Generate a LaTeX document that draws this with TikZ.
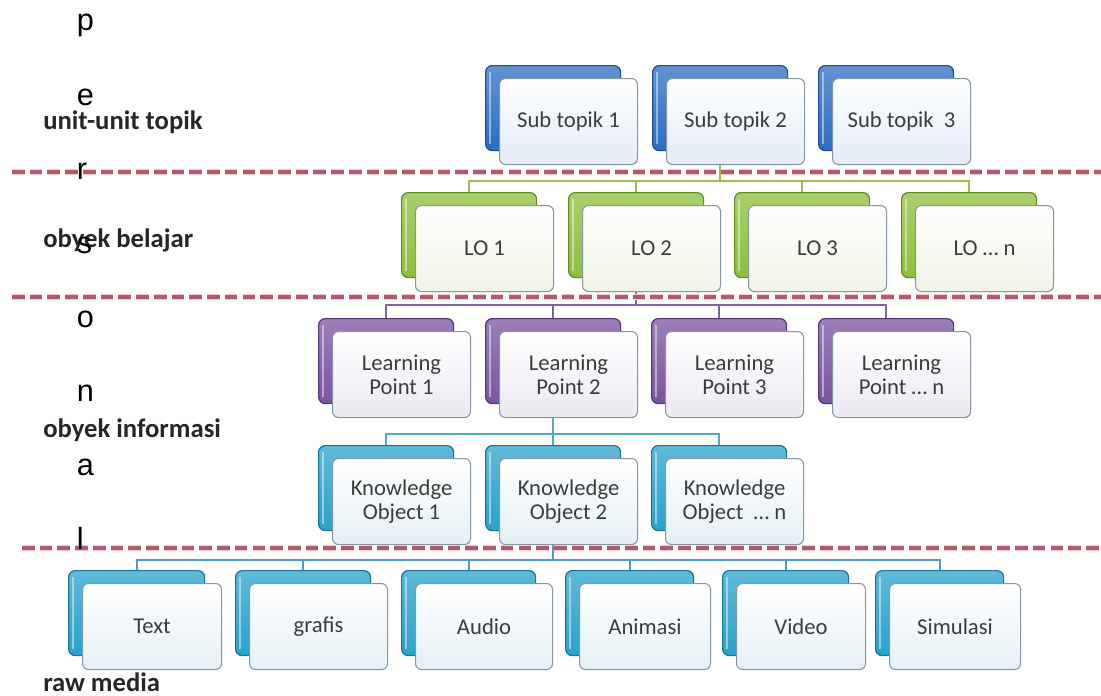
\documentclass[tikz,border=0pt]{standalone}
\usepackage{fontspec}
\setmainfont{Carlito}
\newfontfamily\arialfont{Liberation Sans}
\usetikzlibrary{calc}
\pgfdeclarelayer{bg}
\pgfsetlayers{bg,main}
\definecolor{stblue}{HTML}{2C6EC2}
\definecolor{stdark}{HTML}{1B4E8F}
\definecolor{stfront}{HTML}{E3EBF6}
\definecolor{logreen}{HTML}{8CBF3C}
\definecolor{lodark}{HTML}{5F8D22}
\definecolor{lofront}{HTML}{EFF4E6}
\definecolor{lppurple}{HTML}{7A54A0}
\definecolor{lpdark}{HTML}{533478}
\definecolor{lpfront}{HTML}{ECE8F2}
\definecolor{kocyan}{HTML}{2AA2CA}
\definecolor{kodark}{HTML}{197393}
\definecolor{kofront}{HTML}{E4F0F6}
\definecolor{frontline}{HTML}{8595A5}
\definecolor{textgray}{HTML}{3C3C3C}
\definecolor{sepred}{HTML}{B25A6C}
\definecolor{sepglow}{HTML}{F4CDD4}
\definecolor{conngreen}{HTML}{9BC04F}
\definecolor{connpurple}{HTML}{8064A2}
\definecolor{conncyan}{HTML}{4BACC6}
\definecolor{connblue}{HTML}{4E9BCB}
\newcommand\card[6]{%
  \node[backbox, scheme #5, minimum width={#4*0.75pt}] (#1b) at (#2,#3) {};
  \node[frontbox, front #5, minimum width={(#4+3)*0.75pt}] (#1) at (#2+14,#3+13) {#6};
}
\begin{document}
\begin{tikzpicture}[x=0.75pt,y=-0.75pt,
  backbox/.style={rounded corners=5pt, inner sep=0pt, line width=0.9pt,
    minimum height={85*0.75pt}, anchor=north west,
    path picture={\draw[white, opacity=0.45, line width=1.3pt]
      ([xshift=3.2pt,yshift=-5pt]path picture bounding box.north west) --
      ([xshift=3.2pt,yshift=5pt]path picture bounding box.south west);}},
  frontbox/.style={rounded corners=4.5pt, inner sep=0pt, line width=0.8pt,
    draw=frontline, minimum height={86*0.75pt}, anchor=north west,
    align=center, text=textgray, font=\fontsize{17}{18}\selectfont},
  scheme st/.style={top color=stblue!75!white, bottom color=stblue, draw=stdark},
  scheme lo/.style={top color=logreen!75!white, bottom color=logreen, draw=lodark},
  scheme lp/.style={top color=lppurple!75!white, bottom color=lppurple, draw=lpdark},
  scheme ko/.style={top color=kocyan!75!white, bottom color=kocyan, draw=kodark},
  front st/.style={top color=white, bottom color=stfront},
  front lo/.style={top color=white, bottom color=lofront},
  front lp/.style={top color=white, bottom color=lpfront},
  front ko/.style={top color=white, bottom color=kofront},
  conn/.style={line width=1.4pt, draw=#1},
  sepglowline/.style={line width=4.5pt, draw=sepglow, dash pattern=on 9.5pt off 3.8pt},
  sepline/.style={line width=2.3pt, draw=sepred, dash pattern=on 9.5pt off 3.8pt},
  levellabel/.style={anchor=base west, inner sep=0pt, text=black!85,
    font=\fontsize{20}{21}\selectfont\bfseries},
  letter/.style={anchor=base west, inner sep=0pt, text=black,
    font=\arialfont\fontsize{23}{24}\selectfont}]
\useasboundingbox (0,0) rectangle (1101,696);
% ---------- boxes ----------
\card{st1}{485}{65}{135}{st}{Sub topik 1}
\card{st2}{652}{65}{135}{st}{Sub topik 2}
\card{st3}{818}{65}{135}{st}{Sub topik\ \ 3}
\card{lo1}{401}{192}{135}{lo}{LO 1}
\card{lo2}{568}{192}{135}{lo}{LO 2}
\card{lo3}{734}{192}{135}{lo}{LO 3}
\card{lo4}{901}{192}{135}{lo}{LO … n}
\card{lp1}{318}{318}{135}{lp}{Learning\\Point 1}
\card{lp2}{485}{318}{135}{lp}{Learning\\Point 2}
\card{lp3}{651}{318}{135}{lp}{Learning\\Point 3}
\card{lp4}{818}{318}{135}{lp}{Learning\\Point … n}
\card{ko1}{318}{445}{135}{ko}{Knowledge\\Object 1}
\card{ko2}{485}{445}{135}{ko}{Knowledge\\Object 2}
\card{ko3}{651}{445}{135}{ko}{Knowledge\\Object\ \ … n}
\card{rm1}{68}{570}{136}{ko}{Text}
\card{rm2}{235}{570}{135}{ko}{grafis}
\card{rm3}{401}{570}{134}{ko}{Audio}
\card{rm4}{565}{570}{128}{ko}{Animasi}
\card{rm5}{722}{570}{126}{ko}{Video}
\card{rm6}{875}{570}{128}{ko}{Simulasi}
% ---------- connectors (behind boxes) ----------
\begin{pgfonlayer}{bg}
\foreach \c in {lo1b,lo2b,lo3b,lo4b}
  \draw[conn=conngreen] (st2b.south) -- ++(0,30) -| (\c.north);
\foreach \c in {lp1b,lp2b,lp3b,lp4b}
  \draw[conn=connpurple] (lo2b.south) -- ++(0,27) -| (\c.north);
\foreach \c in {ko1b,ko2b,ko3b}
  \draw[conn=conncyan] (lp2b.south) -- ++(0,30) -| (\c.north);
\foreach \c in {rm1b,rm2b,rm3b,rm4b,rm5b,rm6b}
  \draw[conn=connblue] (ko2b.south) -- ++(0,29) -| (\c.north);
\end{pgfonlayer}
% ---------- separators ----------
\coordinate (s1a) at (12,172);  \coordinate (s1b) at (1101,172);
\coordinate (s2a) at (12,297);  \coordinate (s2b) at (1101,297);
\coordinate (s3a) at (22,548);  \coordinate (s3b) at (1101,548);
\foreach \a/\b in {s1a/s1b,s2a/s2b,s3a/s3b}{
  \draw[sepglowline] (\a) -- (\b);
  \draw[sepline] (\a) -- (\b);
}
% ---------- level labels ----------
\node[levellabel] (lab1) at (43,129) {unit-unit topik};
\node[levellabel] (lab2) at (43,247) {obyek belajar};
\node[levellabel] (lab3) at (43,437) {obyek informasi};
\node[levellabel] (lab4) at (43,691) {raw media};
% ---------- vertical word ----------
\foreach \l [count=\i] in {p,e,r,s,o,n,a,l}
  \node[letter] (let\i) at (76.5,{31+74*(\i-1)}) {\l};
\end{tikzpicture}
\end{document}
